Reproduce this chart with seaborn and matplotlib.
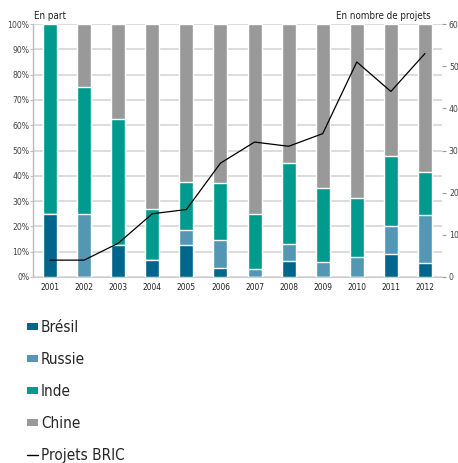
import numpy as np
import pandas as pd
import matplotlib
matplotlib.use("Agg")
import matplotlib.pyplot as plt
import seaborn as sns
from matplotlib.patches import Patch
from matplotlib.lines import Line2D
from matplotlib import font_manager

sns.set_style("white")
fonts = font_manager.fontManager.ttflist
names = {f.name for f in fonts}
condensed = any(f.name == "DejaVu Sans" and f.stretch in ("condensed", 600 - 100) for f in fonts) or \
    any(f.name == "DejaVu Sans" and "Condensed" in f.fname for f in fonts)
if "Liberation Sans Narrow" in names:
    plt.rcParams["font.family"] = ["Liberation Sans Narrow", "DejaVu Sans"]
elif condensed:
    plt.rcParams["font.family"] = ["DejaVu Sans"]
    plt.rcParams["font.stretch"] = "condensed"
else:
    plt.rcParams["font.family"] = ["Liberation Sans", "DejaVu Sans"]

years = ["2001", "2002", "2003", "2004", "2005", "2006",
         "2007", "2008", "2009", "2010", "2011", "2012"]

# Share of projects by country (%)
bresil = [25.0, 0.0, 12.5, 6.7, 12.5, 3.7, 0.0, 6.5, 0.0, 0.0, 9.1, 5.7]
russie = [0.0, 25.0, 0.0, 0.0, 6.25, 11.1, 3.1, 6.4, 5.9, 7.8, 10.9, 18.8]
inde = [75.0, 50.0, 50.0, 20.0, 18.75, 22.2, 21.9, 32.3, 29.4, 23.5, 27.7, 17.0]
chine = [0.0, 25.0, 37.5, 73.3, 62.5, 63.0, 75.0, 54.8, 64.7, 68.6, 52.3, 58.5]

# Number of BRIC projects
projets = [4, 4, 8, 15, 16, 27, 32, 31, 34, 51, 44, 53]

series = [("Brésil", bresil, "#00668b"),
          ("Russie", russie, "#5497b5"),
          ("Inde", inde, "#009b8e"),
          ("Chine", chine, "#999999")]

df = pd.DataFrame({"annee": years})
running = np.zeros(len(years))
for name, vals, _ in series:
    running = running + np.array(vals)
    df[name] = running.copy()

fig = plt.figure(figsize=(4.58, 4.63), dpi=100)
ax = fig.add_axes([33 / 458, 1 - 277 / 463, (442 - 33) / 458, (277 - 24) / 463])

# stacked bars: draw cumulative totals from the top segment downwards
for name, _, color in reversed(series):
    sns.barplot(data=df, x="annee", y=name, color=color, width=0.41,
                saturation=1, ax=ax, zorder=3)

ax.set_xlim(-0.5, len(years) - 0.5)
ax.set_ylim(0, 100)
ax.set_yticks(np.arange(0, 101, 10))
ax.set_yticklabels([f"{v}%" for v in range(0, 101, 10)])
ax.set_xlabel("")
ax.set_ylabel("")
ax.grid(axis="y", color="#d9d9d9", linewidth=1.3, zorder=0)
ax.set_axisbelow(True)
for side in ["top", "right"]:
    ax.spines[side].set_visible(False)
ax.spines["left"].set_color("#bbbbbb")
ax.spines["bottom"].set_color("#cccccc")
ax.spines["left"].set_linewidth(1.0)
ax.tick_params(axis="y", labelsize=6.2, colors="#444444", length=2, width=0.8,
               color="#bbbbbb", pad=0.5)
ax.tick_params(axis="x", labelsize=6.0, colors="#222222", length=0, pad=4)

ax2 = ax.twinx()
sns.lineplot(x=np.arange(len(years)), y=projets, color="black", linewidth=0.9,
             ax=ax2, zorder=5)
ax2.set_ylim(0, 60)
ax2.set_xlim(-0.5, len(years) - 0.5)
ax2.set_yticks(np.arange(0, 61, 10))
for side in ["top", "right", "left", "bottom"]:
    ax2.spines[side].set_visible(False)
ax2.tick_params(axis="y", labelsize=6.2, colors="#444444", length=3, width=0.8,
                color="#999999", pad=2)
ax2.set_ylabel("")

fig.text(34 / 458, 1 - 16 / 463, "En part", fontsize=7.0, color="#222222",
         ha="left", va="center")
fig.text(431 / 458, 1 - 16 / 463, "En nombre de projets", fontsize=7.0,
         color="#222222", ha="right", va="center")

handles = [Patch(facecolor=c, edgecolor="none", label=n) for n, _, c in series]
handles.append(Line2D([0], [0], color="black", linewidth=1.0, label="Projets BRIC"))
fig.legend(handles=handles, loc="upper left", bbox_to_anchor=(27 / 458, 1 - 320 / 463),
           frameon=False, fontsize=11, handlelength=0.7, handleheight=0.35,
           handletextpad=0.2, labelspacing=1.11, borderaxespad=0, borderpad=0)

fig.savefig("out.png", dpi=100)
